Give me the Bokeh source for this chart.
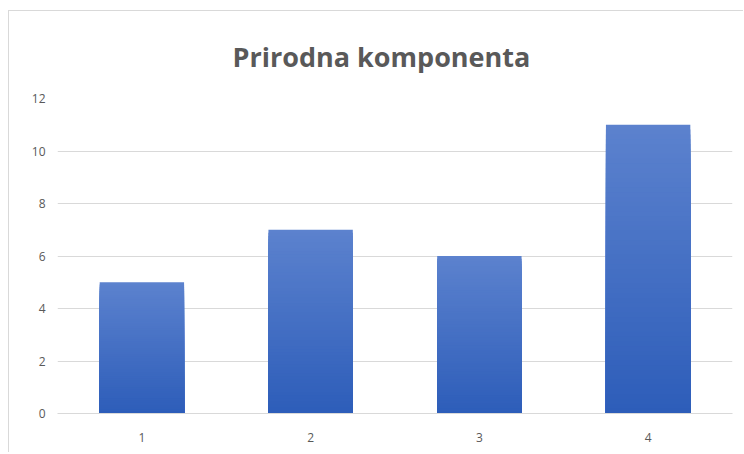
from bokeh.plotting import figure
from bokeh.models import FactorRange, Range1d, FixedTicker
from bokeh.embed import file_html
from bokeh.resources import INLINE

categories = ["1", "2", "3", "4"]
values = [5, 7, 6, 11]
y_ticks = [0, 2, 4, 6, 8, 10, 12]
title_text = "Prirodna komponenta"

top_rgb = (92, 130, 206)
bottom_rgb = (45, 93, 185)
n_slices = 60

p = figure(x_range=FactorRange(*categories, range_padding=0), y_range=Range1d(0, 12),
           width=735, height=442, output_backend="svg", toolbar_location=None,
           min_border_left=48, min_border_right=12, min_border_top=85, min_border_bottom=40,
           title=title_text)
p.styles = {"border-left": "1px solid #d9d9d9", "border-top": "1px solid #d9d9d9",
            "margin-top": "10px", "margin-left": "8px"}

p.title.align = "left"
p.title.offset = 175
p.title.text_font = "Open Sans"
p.title.text_font_style = "bold"
p.title.text_font_size = "27px"
p.title.text_color = "#595959"
p.title.standoff = 48

# gradient bars: nested slices drawn from full height down to smallest
xs, tops, cols = [], [], []
for i in range(n_slices - 1, -1, -1):
    t = (i + 0.5) / n_slices
    r = round(bottom_rgb[0] + (top_rgb[0] - bottom_rgb[0]) * t)
    g = round(bottom_rgb[1] + (top_rgb[1] - bottom_rgb[1]) * t)
    b = round(bottom_rgb[2] + (top_rgb[2] - bottom_rgb[2]) * t)
    col = "#%02x%02x%02x" % (r, g, b)
    for c, v in zip(categories, values):
        xs.append(c)
        tops.append(v * (i + 1) / n_slices)
        cols.append(col)

p.vbar(x=xs, bottom=0, top=tops, width=0.5, fill_color=cols, line_color=None)

p.xgrid.grid_line_color = None
p.ygrid.grid_line_color = "#d9d9d9"
p.ygrid.ticker = FixedTicker(ticks=y_ticks)
p.yaxis.ticker = FixedTicker(ticks=y_ticks)
p.outline_line_color = None

for ax in (p.xaxis, p.yaxis):
    ax.major_tick_line_color = None
    ax.minor_tick_line_color = None
    ax.major_label_text_color = "#595959"
    ax.major_label_text_font = "Open Sans"
    ax.major_label_text_font_size = "12px"
p.yaxis.axis_line_color = None
p.xaxis.axis_line_color = "#d9d9d9"
p.yaxis.major_label_standoff = 6
p.xaxis.major_label_standoff = 13

open("out.html", "w").write(file_html(p, INLINE))
